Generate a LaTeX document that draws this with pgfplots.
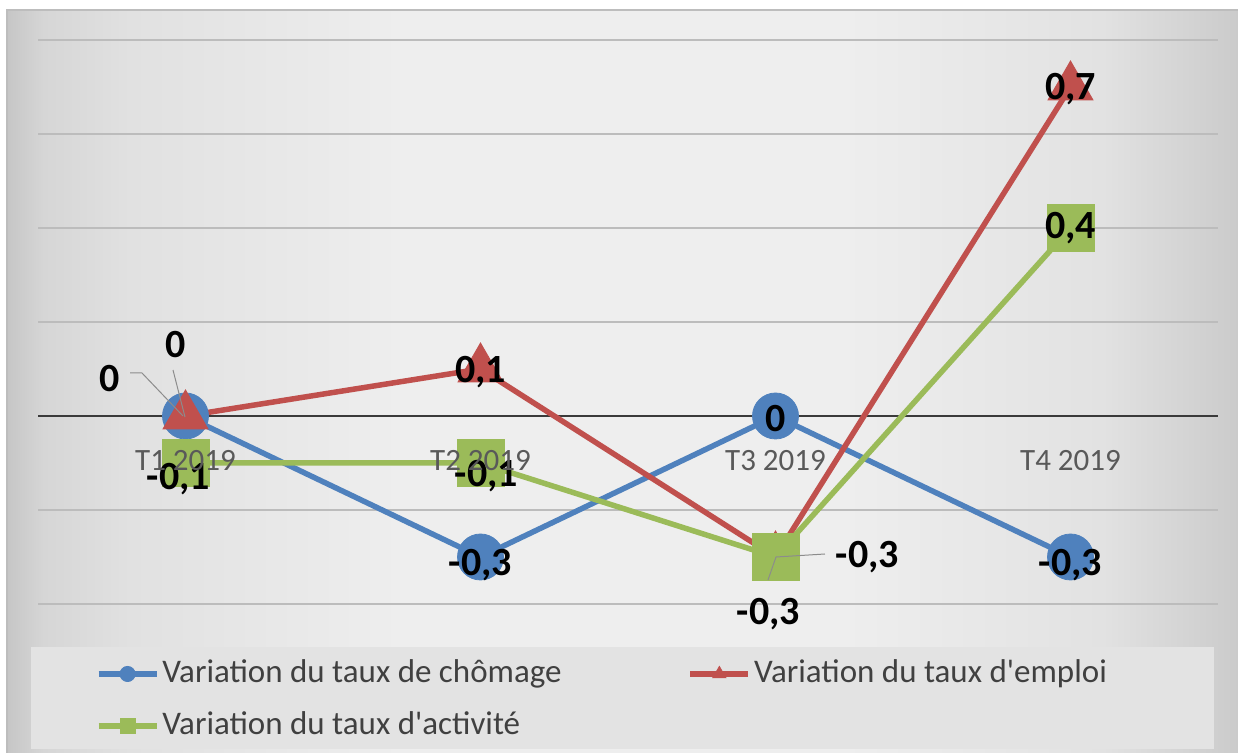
\documentclass[border=0pt]{standalone}
\usepackage{fontspec}
\setmainfont{Carlito}
\usepackage{pgfplots}
\pgfplotsset{compat=1.18}
\usepackage{pgfplotstable}

\definecolor{cBlue}{HTML}{4F81BD}
\definecolor{cRed}{HTML}{C0504D}
\definecolor{cGreen}{HTML}{9BBB59}
\definecolor{bgA}{HTML}{C6C6C6}
\definecolor{bgB}{HTML}{D6D6D6}
\definecolor{bgC}{HTML}{E1E1E1}
\definecolor{bgD}{HTML}{EEEEEE}
\definecolor{bgE}{HTML}{E2E2E2}
\definecolor{bgF}{HTML}{CBCBCB}
\definecolor{legendfill}{HTML}{E3E3E3}
\definecolor{framegray}{HTML}{BDBDBD}
\definecolor{gridgray}{HTML}{BCBCBC}
\definecolor{zerogray}{HTML}{3A3A3A}
\definecolor{tickgray}{HTML}{595959}
\definecolor{legendgray}{HTML}{404040}
\definecolor{leadergray}{HTML}{8C8C8C}

\pgfdeclarehorizontalshading{chartbg}{100bp}{color(0bp)=(bgA); color(25bp)=(bgA); color(26.5bp)=(bgB); color(30bp)=(bgC); color(41bp)=(bgD); color(59bp)=(bgD); color(69.5bp)=(bgE); color(75bp)=(bgF); color(100bp)=(bgF)}

\newcommand\labfont{\fontsize{20}{24}\selectfont\bfseries}

\pgfplotstableread{
x y lab dx dy
1 0 0 -38 18.5
2 -0.3 -0,3 0 -4
3 0 0 0 -1.5
4 -0.3 -0,3 0 -4
}\chomage
\pgfplotstableread{
x y lab dx dy
1 0 0 -5 35.5
2 0.1 0,1 0 -1.5
3 -0.3 -0,3 46 0
4 0.7 0,7 0 -1
}\emploi
\pgfplotstableread{
x y lab dx dy
1 -0.1 -0,1 -3.5 -8
2 -0.1 -0,1 3 -6.5
3 -0.3 -0,3 -3.5 -28.5
4 0.4 0,4 0 0
}\activite

\pgfplotsset{
  layers/mine/.define layer set={axis background,axis grid,axis ticks,axis lines,main,axis tick labels,axis descriptions,axis foreground}{
    grid style={/pgfplots/on layer=axis grid},
    tick style={/pgfplots/on layer=axis ticks},
    axis line style={/pgfplots/on layer=axis lines},
    label style={/pgfplots/on layer=axis descriptions},
    legend style={/pgfplots/on layer=axis descriptions},
    tick label style={/pgfplots/on layer=axis tick labels},
  },
  lbl/.style={
    point meta=explicit symbolic,
    nodes near coords={\pgfplotspointmeta},
    visualization depends on={\thisrow{dx}\as\lblx},
    visualization depends on={\thisrow{dy}\as\lbly},
    every node near coord/.append style={/pgfplots/on layer=axis foreground, anchor=center, xshift=\lblx pt, yshift=\lbly pt, font=\labfont, text=black, inner sep=0pt},
  }
}

\begin{document}
\begin{tikzpicture}
\begin{axis}[
  set layers=mine,
  scale only axis, width=590pt, height=282pt,
  anchor=south west, at={(19pt,-302pt)},
  xmin=0.5, xmax=4.5, ymin=-0.4, ymax=0.8,
  clip=false,
  axis x line=middle, axis y line=left,
  x axis line style={draw=none}, y axis line style={draw=none},
  xtick={1,2,3,4}, xticklabels={T1 2019,T2 2019,T3 2019,T4 2019},
  ytick={-0.4,-0.2,0.2,0.4,0.6,0.8}, yticklabels={},
  extra y ticks={0}, extra y tick labels={},
  extra y tick style={grid=major, major grid style={draw=zerogray, line width=1.4pt}},
  major tick length=0pt,
  ymajorgrids, major grid style={draw=gridgray, line width=0.8pt},
  xticklabel style={anchor=center, yshift=-22.5pt, text=tickgray, font=\fontsize{15.5}{18}\selectfont},
  legend columns=2,
  legend cell align=left,
  legend style={at={(0.049,-0.0966)}, anchor=north west, draw=none, fill=none,
    inner sep=0pt, outer sep=0pt, row sep=10.5pt,
    font=\fontsize{16.5}{19}\selectfont,
    nodes={text=legendgray, inner xsep=1.5pt, inner ysep=0pt, text height=12pt, text depth=3.5pt},
    /tikz/every even column/.append style={column sep=61.5pt}},
  legend image code/.code={\draw[mark repeat=2,mark phase=2,#1,mark size=3.8pt] plot coordinates {(0pt,0pt) (14.5pt,0pt) (29pt,0pt)};},
]
\begin{pgfonlayer}{axis background}
\fill[white] (axis description cs:-0.032203,1.070922) rectangle (axis description cs:1.016949,-0.264184);
\shade[shading=chartbg] (axis description cs:-0.026271,1.053191) rectangle (axis description cs:1.016949,-0.264184);
\draw[framegray, line width=0.6pt] (axis description cs:-0.026271,-0.264184) -- (axis description cs:-0.026271,1.053191) -- (axis description cs:1.016949,1.053191);
\fill[legendfill] (axis description cs:-0.005932,-0.076241) rectangle (axis description cs:0.996610,-0.257092);
\end{pgfonlayer}
\addplot[cBlue, line width=2.75pt, mark=*, mark size=11.5pt, mark options={solid, line width=0.4pt, fill=cBlue, draw=cBlue}, lbl]
  table[x=x, y=y, meta=lab]{\chomage};
\addlegendentry{Variation du taux de chômage}
\addplot[cRed, line width=2.75pt, mark=triangle*, mark size=13pt, mark options={solid, line width=0.4pt, fill=cRed, draw=cRed}, lbl]
  table[x=x, y=y, meta=lab]{\emploi};
\addlegendentry{Variation du taux d\textquotesingle emploi}
\addplot[cGreen, line width=2.75pt, mark=square*, mark size=11.75pt, mark options={solid, line width=0.4pt, fill=cGreen, draw=cGreen}, lbl]
  table[x=x, y=y, meta=lab]{\activite};
\addlegendentry{Variation du taux d\textquotesingle activité}
\begin{pgfonlayer}{axis foreground}
\draw[leadergray, line width=0.5pt] (axis description cs:0.077966,0.409574) -- (axis description cs:0.088136,0.409574) -- (axis description cs:0.122881,0.333333);
\draw[leadergray, line width=0.5pt] (axis description cs:0.114407,0.414894) -- (axis description cs:0.124576,0.331560);
\draw[leadergray, line width=0.5pt] (axis description cs:0.666949,0.088652) -- (axis description cs:0.625424,0.083333) -- (axis description cs:0.618644,0.042553);
\end{pgfonlayer}
\end{axis}
\pgfresetboundingbox
\useasboundingbox (0,0) rectangle (619pt,-376.5pt);
\end{tikzpicture}
\end{document}
